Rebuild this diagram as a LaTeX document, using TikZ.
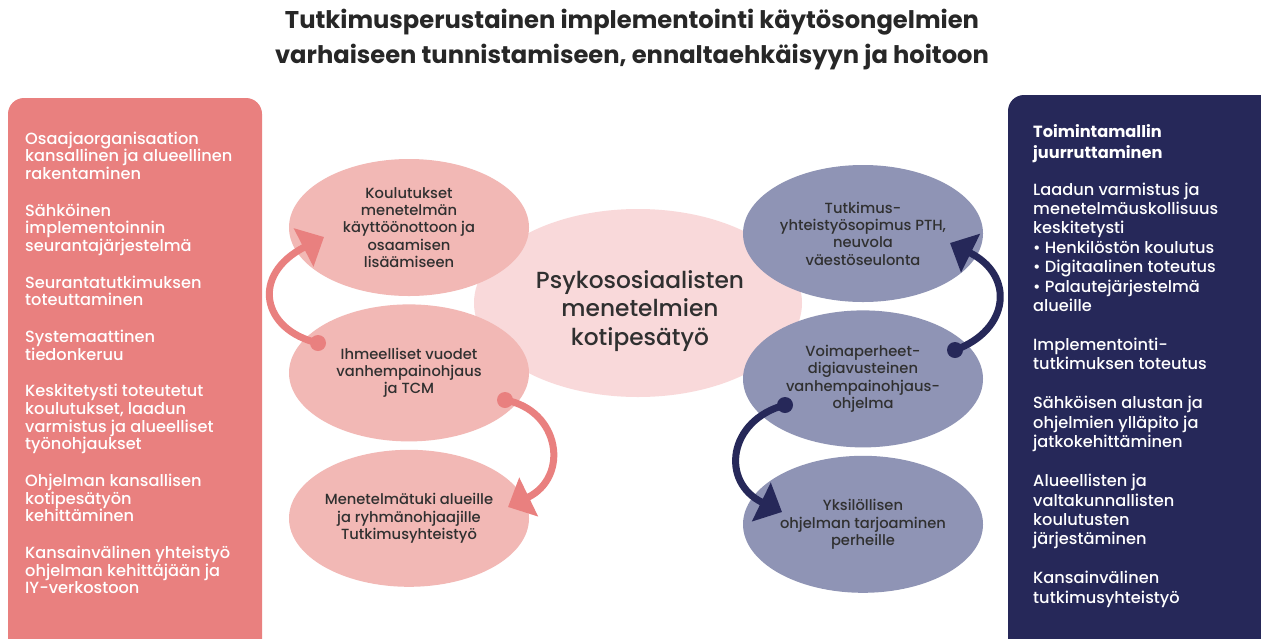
\documentclass[tikz,border=0pt]{standalone}
\usepackage{fontspec}
\setmainfont{Poppins Medium}[BoldFont=Poppins Bold]
\usepackage{tikz}
\usetikzlibrary{arrows.meta,shapes.geometric}
\usetikzlibrary{positioning}
\definecolor{panelred}{HTML}{E9807F}
\definecolor{ovalred}{HTML}{F2B8B5}
\definecolor{corepink}{HTML}{F9D9DA}
\definecolor{navy}{HTML}{262859}
\definecolor{ovalblue}{HTML}{8F94B5}
\definecolor{ink}{HTML}{303030}
\tikzset{
    oval/.style={
           ellipse,
           minimum width=240pt,
           minimum height=137pt,
           inner sep=0pt,
           text=ink,
           align=center,
           font=\fontsize{14.7}{17.3}\selectfont,
           },
    paneltext/.style={
           anchor=north west,
           inner sep=0pt,
           text=white,
           align=left,
           },
    turnarrow/.style={
           line width=7pt,
           -{Triangle[length=23pt,width=42pt]},
           },
}

\begin{document}
\begin{tikzpicture}[x=1pt,y=-1pt]
 \useasboundingbox (0,0) rectangle (1261,638);
 \fill[white] (0,0) rectangle (1261,638);

 % title
 \node[font=\bfseries\fontsize{24.2}{35}\selectfont,
 text=ink!80!black,
 align=center] (TITLE) at (632,40)
 {Tutkimusperustainen implementointi käytösongelmien\\
  varhaiseen tunnistamiseen, ennaltaehkäisyyn ja hoitoon};

 % side panels
 \fill[panelred, rounded corners=16pt] (8,98) rectangle (262,680);
 \fill[navy, rounded corners=16pt] (1008,95) rectangle (1300,680);

 \node[paneltext,
 font=\fontsize{16.2}{17.8}\selectfont] (LEFTTXT) at (25,131.5)
 {Osaajaorganisaation\\kansallinen ja alueellinen\\rakentaminen\\[18.6pt]
  Sähköinen\\implementoinnin\\seurantajärjestelmä\\[18.6pt]
  Seurantatutkimuksen\\toteuttaminen\\[18.6pt]
  Systemaattinen\\tiedonkeruu\\[18.6pt]
  Keskitetysti toteutetut\\koulutukset, laadun\\varmistus ja alueelliset\\työnohjaukset\\[18.6pt]
  Ohjelman kansallisen\\kotipesätyön\\kehittäminen\\[18.6pt]
  Kansainvälinen yhteistyö\\ohjelman kehittäjään ja\\IY-verkostoon};

 \node[paneltext,
 font=\fontsize{16.2}{19.4}\selectfont] (RIGHTTXT) at (1033,124)
 {\textbf{Toimintamallin}\\[1.6pt]\textbf{juurruttaminen}\\[17.6pt]
  Laadun varmistus ja\\menetelmäuskollisuus\\keskitetysti\\
  • Henkilöstön koulutus\\• Digitaalinen toteutus\\• Palautejärjestelmä\\alueille\\[19.6pt]
  Implementointi-\\tutkimuksen toteutus\\[19.6pt]
  Sähköisen alustan ja\\ohjelmien ylläpito ja\\jatkokehittäminen\\[19.6pt]
  Alueellisten ja\\valtakunnallisten\\koulutusten\\järjestäminen\\[19.6pt]
  Kansainvälinen\\tutkimusyhteistyö};

 % core and the two chains of ovals
 \node[ellipse,
 fill=corepink,
 minimum width=328pt,
 minimum height=188pt] (CORE) at (638,303) {};
 \node[text=ink,
 align=center,
 font=\fontsize{23.3}{28.3}\selectfont] (CORETXT) at ([xshift=2pt,yshift=-8pt]CORE.center)
 {Psykososiaalisten\\menetelmien\\kotipesätyö};

 \node[oval, fill=ovalred] (KOUL) at (409,227.5)
 {Koulutukset\\menetelmän\\käyttöönottoon ja\\osaamisen\\lisäämiseen};
 \node[oval, fill=ovalred, below=8pt of KOUL] (IHME)
 {Ihmeelliset vuodet\\vanhempainohjaus\\ja TCM};
 \node[oval, fill=ovalred, below=8pt of IHME] (TUKI)
 {Menetelmätuki alueille\\ja ryhmänohjaajille\\Tutkimusyhteistyö};

 \node[oval, fill=ovalblue] (SOPI) at (863,233.5)
 {Tutkimus-\\yhteistyösopimus PTH,\\neuvola\\väestöseulonta};
 \node[oval, fill=ovalblue, below=8pt of SOPI] (VOIMA)
 {Voimaperheet-\\digiavusteinen\\vanhempainohjaus-\\ohjelma};
 \node[oval, fill=ovalblue, below=8pt of VOIMA] (YKSI)
 {Yksilöllisen\\ohjelman tarjoaminen\\perheille};

 % curved arrows
 \coordinate (IHMEOUT) at (318,343);
 \coordinate (KOULIN) at (324,237);
 \coordinate (IHMEOUTB) at (505,400);
 \coordinate (TUKIIN) at (508,507);
 \coordinate (VOIMAOUT) at (955,350);
 \coordinate (SOPIIN) at (950,243);
 \coordinate (VOIMAOUTB) at (785,405);
 \coordinate (YKSIIN) at (782,512);

 \draw[turnarrow, panelred] (IHMEOUT) .. controls (262,330) and (250,275) .. (KOULIN);
 \draw[turnarrow, panelred] (IHMEOUTB) .. controls (560,410) and (570,477) .. (TUKIIN);
 \draw[turnarrow, navy] (VOIMAOUT) .. controls (1010,330) and (1015,275) .. (SOPIIN);
 \draw[turnarrow, navy] (VOIMAOUTB) .. controls (728,420) and (720,482) .. (YKSIIN);
 \fill[panelred] (IHMEOUT) circle (8pt) (IHMEOUTB) circle (8pt);
 \fill[navy] (VOIMAOUT) circle (8pt) (VOIMAOUTB) circle (8pt);
\end{tikzpicture}
\end{document}
